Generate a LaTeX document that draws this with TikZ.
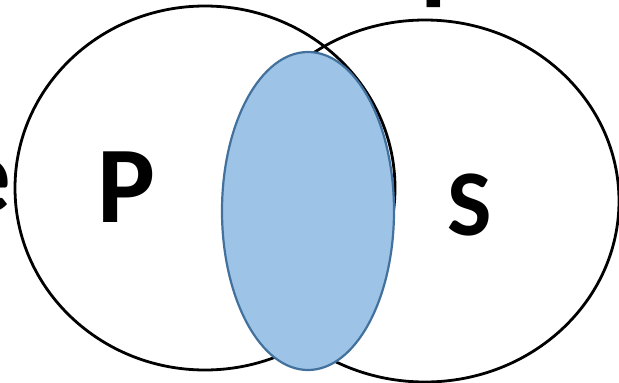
\documentclass[tikz,border=0pt]{standalone}
\usepackage{fontspec}
\setmainfont{Carlito}
\definecolor{fillblue}{HTML}{9DC3E6}
\definecolor{edgeblue}{HTML}{41719C}
\begin{document}
\begin{tikzpicture}[x=1pt,y=-1pt,
  setline/.style={draw=black, line width=2.8pt},
  overlap/.style={fill=fillblue, draw=edgeblue, line width=2.2pt},
  biglabel/.style={inner sep=0pt, anchor=base, font=\bfseries\fontsize{109}{109}\selectfont},
  midlabel/.style={inner sep=0pt, anchor=base, font=\bfseries\fontsize{94}{94}\selectfont}]
\useasboundingbox (0,0) rectangle (619,383);
\clip (0,0) rectangle (619,383);
\fill[white] (0,0) rectangle (619,383);
\draw[setline] (205,188) ellipse [x radius=190, y radius=182];
\draw[setline] (425,201) ellipse [x radius=194, y radius=181];
\draw[overlap] (308,211) ellipse [x radius=86, y radius=159];
\node[biglabel] (P) at (127,222) {P};
\node[midlabel] (S) at (470,235) {S};
\node[biglabel, anchor=base east] (E) at (12,212) {e};
\node[biglabel, anchor=base west] (T) at (420,-10) {p};
\end{tikzpicture}
\end{document}
